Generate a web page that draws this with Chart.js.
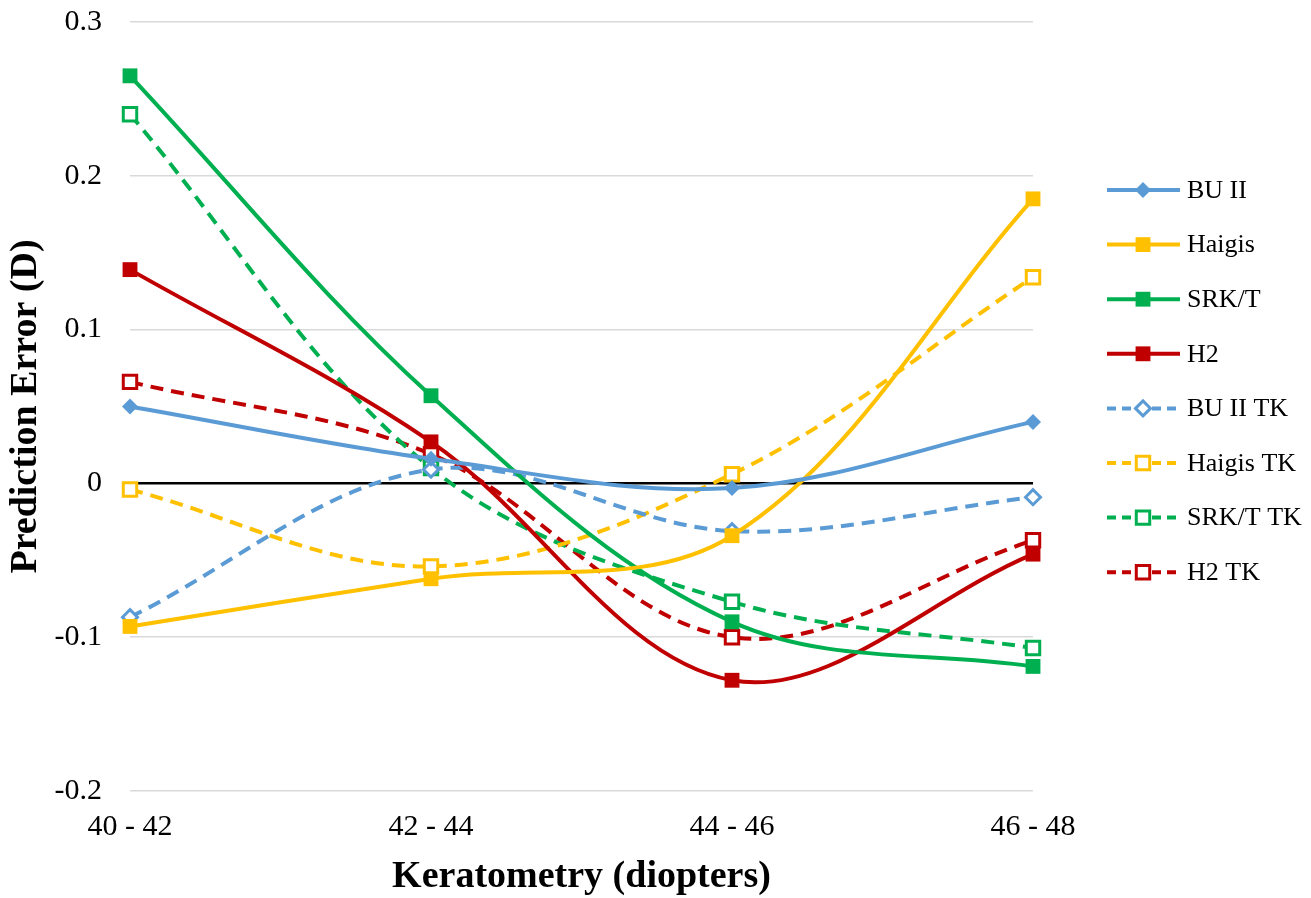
<!DOCTYPE html>
<html>
<head>
<meta charset="utf-8">
<script src="https://cdn.jsdelivr.net/npm/chart.js@4.4.1/dist/chart.umd.min.js"></script>
<style>
  html, body { margin: 0; padding: 0; background: #fff; }
  #wrap { width: 1311px; height: 898px; }
</style>
</head>
<body>
<div id="wrap"><canvas id="chart" width="1311" height="898"></canvas></div>
<script>
// categories (keratometry ranges)
const categories = ["40 - 42", "42 - 44", "44 - 46", "46 - 48"];

// prediction error per formula
const buII = [0.050, 0.016, -0.003, 0.040];
const haigis = [-0.093, -0.062, -0.034, 0.185];
const srkt = [0.265, 0.057, -0.090, -0.119];
const h2 = [0.139, 0.027, -0.128, -0.046];
const buIITK = [-0.087, 0.009, -0.031, -0.009];
const haigisTK = [-0.004, -0.054, 0.006, 0.134];
const srktTK = [0.240, 0.010, -0.077, -0.107];
const h2TK = [0.066, 0.019, -0.100, -0.037];

const yTickLabels = ["-0.2", "-0.1", "0", "0.1", "0.2", "0.3"];

const BLUE = "#5b9bd5", YELLOW = "#ffc000", GREEN = "#00b050", RED = "#c00000";
const FONT = "'Liberation Serif', 'Times New Roman', serif";
const DASH = [13, 8];

function solid(label, data, color, style) {
  return {
    label: label, data: data,
    borderColor: color, backgroundColor: color,
    borderWidth: 4, tension: 0.35, clip: false,
    pointStyle: style, pointRadius: style === "rectRot" ? 8 : 10.5,
    pointBorderWidth: 0, pointBackgroundColor: color,
  };
}
function dashed(label, data, color, style) {
  return {
    label: label, data: data,
    borderColor: color, backgroundColor: "#fff",
    borderWidth: 4, borderDash: DASH, tension: 0.35, clip: false,
    pointStyle: style, pointRadius: style === "rectRot" ? 7.5 : 9.5,
    pointBorderWidth: 3, pointBorderColor: color, pointBackgroundColor: "#fff",
  };
}

// legend drawn on the right like the original
const sideLegend = {
  id: "sideLegend",
  afterDraw(chart) {
    const ctx = chart.ctx;
    const x0 = 1107, x1 = 1180, xm = 1143, top = 190, step = 54.6;
    ctx.save();
    chart.data.datasets.forEach((ds, i) => {
      const y = top + i * step;
      ctx.strokeStyle = ds.borderColor;
      ctx.lineWidth = ds.borderWidth;
      ctx.setLineDash(ds.borderDash ? [9, 6] : []);
      ctx.beginPath();
      ctx.moveTo(x0, y);
      ctx.lineTo(x1, y);
      ctx.stroke();
      ctx.setLineDash([]);
      ctx.fillStyle = ds.pointBackgroundColor;
      ctx.strokeStyle = ds.pointBorderColor || ds.borderColor;
      ctx.lineWidth = ds.pointBorderWidth;
      Chart.helpers.drawPoint(ctx, {
        pointStyle: ds.pointStyle, radius: ds.pointRadius,
        rotation: 0, borderWidth: ds.pointBorderWidth
      }, xm, y);
      ctx.fillStyle = "#000";
      ctx.font = "26px " + FONT;
      ctx.textAlign = "left";
      ctx.textBaseline = "middle";
      ctx.fillText(ds.label, 1187, y + 1);
    });
    ctx.restore();
  }
};

new Chart(document.getElementById("chart").getContext("2d"), {
  type: "line",
  data: {
    labels: categories,
    datasets: [
      solid("BU II", buII, BLUE, "rectRot"),
      solid("Haigis", haigis, YELLOW, "rect"),
      solid("SRK/T", srkt, GREEN, "rect"),
      solid("H2", h2, RED, "rect"),
      dashed("BU II TK", buIITK, BLUE, "rectRot"),
      dashed("Haigis TK", haigisTK, YELLOW, "rect"),
      dashed("SRK/T TK", srktTK, GREEN, "rect"),
      dashed("H2 TK", h2TK, RED, "rect"),
    ]
  },
  options: {
    responsive: false,
    animation: false,
    layout: { padding: { top: 22, right: 278, left: 0, bottom: 0 } },
    plugins: { legend: { display: false }, tooltip: { enabled: false } },
    scales: {
      x: {
        offset: false,
        grid: { display: false, drawTicks: false },
        border: { display: false },
        ticks: { color: "#000", padding: 18, font: { family: FONT, size: 30 }, maxRotation: 0 },
        title: {
          display: true, text: "Keratometry (diopters)", color: "#000",
          font: { family: FONT, size: 38, weight: "bold", lineHeight: 1 },
          padding: { top: 0, bottom: 2 }
        },
        afterFit(scale) {
          scale.height = 107;
          scale.paddingLeft = 0; scale.paddingRight = 0;
        }
      },
      y: {
        min: -0.2, max: 0.3,
        grid: {
          drawTicks: false,
          color: (c) => (Math.abs(c.tick.value) < 1e-9 ? "#000" : "#d9d9d9"),
          lineWidth: (c) => (Math.abs(c.tick.value) < 1e-9 ? 2.5 : 1.5)
        },
        border: { display: false },
        ticks: {
          stepSize: 0.1, color: "#000", padding: 28,
          font: { family: FONT, size: 30 },
          callback: (v) => yTickLabels.find((t) => Math.abs(parseFloat(t) - v) < 1e-6) ?? ""
        },
        title: {
          display: true, text: "Prediction Error (D)", color: "#000",
          font: { family: FONT, size: 38, weight: "bold", lineHeight: 1 },
          padding: { top: 7, bottom: 0 }
        },
        afterFit(scale) {
          scale.width = 130;
          scale.paddingTop = 0; scale.paddingBottom = 0;
        }
      }
    }
  },
  plugins: [sideLegend]
});
</script>
</body>
</html>
